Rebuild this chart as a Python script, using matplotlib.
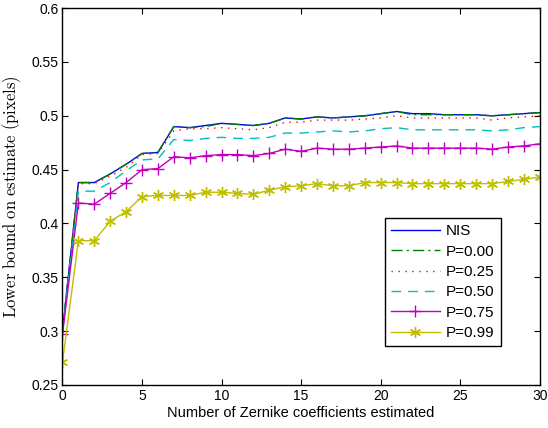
import numpy as np
import matplotlib
matplotlib.use('Agg')
import matplotlib.pyplot as plt

plt.rc('font', family=['Liberation Sans', 'DejaVu Sans'], size=10)
plt.rc('mathtext', fontset='cm')

# number of Zernike coefficients estimated
n_coef = np.arange(0, 31)

nis = [0.300, 0.438, 0.438, 0.446, 0.455, 0.465, 0.466, 0.490, 0.489, 0.491,
       0.493, 0.492, 0.491, 0.493, 0.498, 0.497, 0.499, 0.498, 0.499, 0.500,
       0.502, 0.504, 0.502, 0.502, 0.501, 0.501, 0.501, 0.500, 0.501, 0.502,
       0.503]
p000 = [0.300, 0.438, 0.438, 0.446, 0.455, 0.465, 0.466, 0.490, 0.489, 0.490,
        0.493, 0.492, 0.491, 0.493, 0.498, 0.497, 0.499, 0.498, 0.499, 0.500,
        0.502, 0.504, 0.501, 0.501, 0.501, 0.501, 0.501, 0.500, 0.501, 0.502,
        0.503]
p025 = [0.299, 0.437, 0.437, 0.444, 0.452, 0.464, 0.465, 0.486, 0.488, 0.488,
        0.489, 0.488, 0.487, 0.489, 0.494, 0.494, 0.496, 0.496, 0.496, 0.497,
        0.498, 0.500, 0.498, 0.498, 0.498, 0.498, 0.498, 0.496, 0.498, 0.499,
        0.500]
p050 = [0.298, 0.430, 0.430, 0.438, 0.449, 0.459, 0.460, 0.478, 0.477, 0.479,
        0.480, 0.479, 0.479, 0.480, 0.484, 0.484, 0.485, 0.486, 0.485, 0.486,
        0.488, 0.489, 0.487, 0.487, 0.487, 0.487, 0.487, 0.486, 0.487, 0.489,
        0.490]
p075 = [0.297, 0.419, 0.418, 0.428, 0.438, 0.450, 0.451, 0.462, 0.461, 0.463,
        0.464, 0.464, 0.463, 0.465, 0.469, 0.467, 0.470, 0.469, 0.469, 0.470,
        0.471, 0.472, 0.470, 0.470, 0.470, 0.470, 0.470, 0.469, 0.471, 0.472,
        0.474]
p099 = [0.271, 0.384, 0.384, 0.402, 0.411, 0.425, 0.426, 0.426, 0.426, 0.429,
        0.429, 0.428, 0.427, 0.431, 0.434, 0.435, 0.437, 0.435, 0.435, 0.438,
        0.438, 0.438, 0.437, 0.437, 0.437, 0.437, 0.437, 0.437, 0.439, 0.441,
        0.443]

fig = plt.figure(figsize=(5.48, 4.28), dpi=100)
ax = fig.add_axes([0.114, 0.1005, 0.871, 0.8805])

ax.plot(n_coef, nis, color='b', lw=1.0, label='NIS')
ax.plot(n_coef, p000, color=(0, 0.5, 0), lw=1.0, ls=(0, (8, 3, 1.5, 3)),
        label='P=0.00')
ax.plot(n_coef, p025, color='r', lw=1.0, ls=(0, (1, 4)), label='P=0.25')
ax.plot(n_coef, p050, color=(0, 0.75, 0.75), lw=1.0, ls=(0, (7, 5)),
        label='P=0.50')
ax.plot(n_coef, p075, color=(0.75, 0, 0.75), lw=1.0, marker='+', ms=9,
        mew=1.0, label='P=0.75')
ax.plot(n_coef, p099, color=(0.75, 0.75, 0), lw=1.0, marker=(6, 2, 0), ms=8,
        mew=1.0, label='P=0.99')

ax.set_xlim(0, 30)
ax.set_ylim(0.25, 0.6)
ax.set_xticks(np.arange(0, 31, 5))
ax.set_yticks(np.arange(0.25, 0.61, 0.05))
ax.set_yticklabels(['0.25', '0.3', '0.35', '0.4', '0.45', '0.5', '0.55', '0.6'])
ax.tick_params(axis='both', direction='in', top=True, right=True, length=4,
               width=0.8, labelsize=10, pad=3)
for sp in ax.spines.values():
    sp.set_linewidth(1.0)

ax.set_xlabel('Number of Zernike coefficients estimated', fontsize=10.5,
              labelpad=2)
ax.set_ylabel(r'$\mathrm{Lower\ bound\ on\ estimate\ (pixels)}$', fontsize=12,
              labelpad=6)

leg = ax.legend(loc='upper left', bbox_to_anchor=(0.675, 0.443), fancybox=False,
                edgecolor='k', framealpha=1, fontsize=11, handlelength=3.2,
                labelspacing=0.42, borderpad=0.4, handletextpad=0.4,
                borderaxespad=0)
leg.get_frame().set_linewidth(1.0)

fig.savefig('out.png', dpi=100)
